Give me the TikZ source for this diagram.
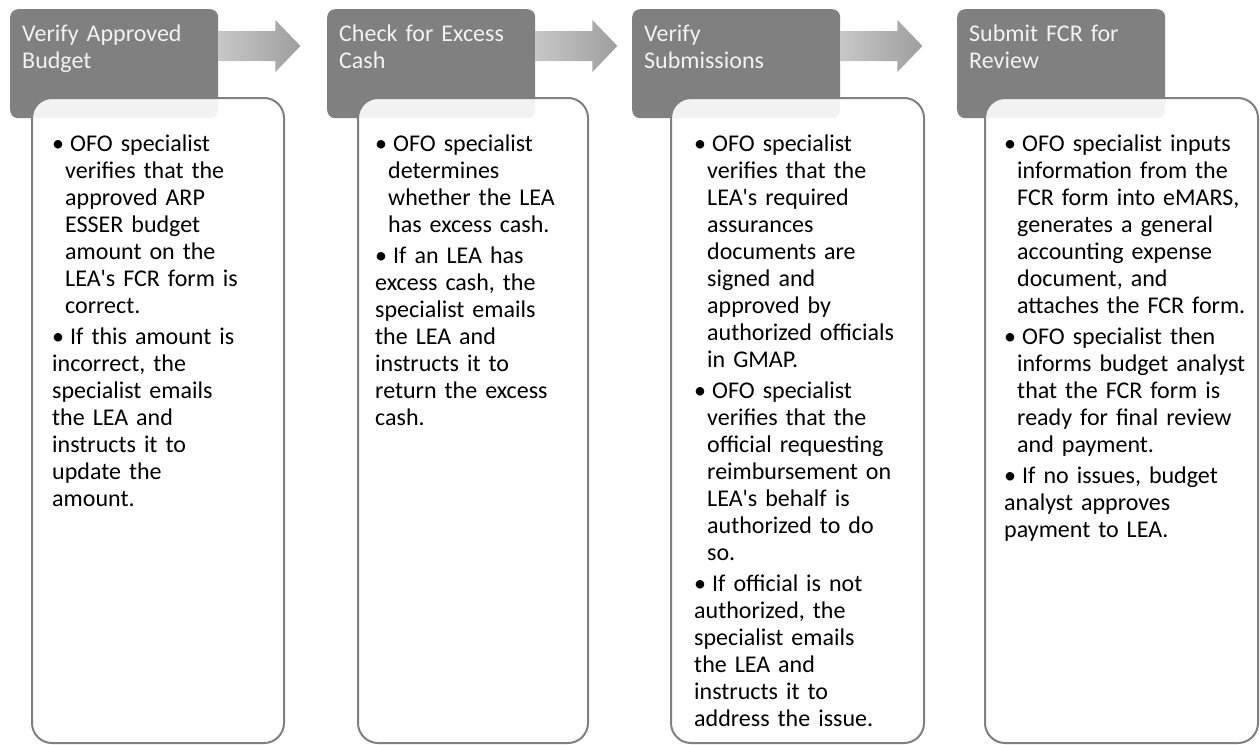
\documentclass[tikz,border=0pt]{standalone}
\usepackage{fontspec}
\setmainfont{Carlito}[Ligatures=TeXOff]
\usetikzlibrary{positioning,calc}
\tikzset{
	head/.style={rectangle, rounded corners=8pt, fill=black!50, minimum width=208pt, minimum height=109pt, anchor=north west, inner sep=0pt},
	headtext/.style={anchor=north west, inner sep=0pt, text width=190pt, text=white!95!black, font=\fontsize{24pt}{26.5pt}\selectfont},
	card/.style={rectangle, rounded corners=20pt, draw=black!50, line width=2pt, fill=white, fill opacity=0.9, anchor=north west, minimum height=645pt, inner sep=0pt},
	cardtext/.style={anchor=north west, inner sep=0pt, text width=265pt, font=\fontsize{24pt}{27pt}\selectfont\setlength{\parskip}{4pt}},
	flow/.style={left color=black!22, right color=black!38}
}
\newcommand{\bul}{\par\hangindent=13pt\hangafter=1\noindent\makebox[18pt][l]{\textbullet}}

\begin{document}
\begin{tikzpicture}[x=1pt, y=-1pt]
\useasboundingbox (0,0) rectangle (1260,744);
\node[head] (hd1) at (10,9) {};
\node[head] (hd2) at (327,9) {};
\node[head] (hd3) at (632,9) {};
\node[head] (hd4) at (957,9) {};
\node[headtext] (ttl1) at ($(hd1.north west)+(12,16)$) {Verify Approved\newline Budget};
\node[headtext] (ttl2) at ($(hd2.north west)+(12,16)$) {Check for Excess\newline Cash};
\node[headtext] (ttl3) at ($(hd3.north west)+(12,16)$) {Verify\newline Submissions};
\node[headtext] (ttl4) at ($(hd4.north west)+(12,16)$) {Submit FCR for\newline Review};

% block arrows between the steps
\foreach \a in {hd1,hd2,hd3}
	\shade[flow] ($(\a.north east)+(0,22)$) -- ($(\a.north east)+(57,22)$) -- ($(\a.north east)+(57,11)$)
		-- ($(\a.north east)+(82,37)$) -- ($(\a.north east)+(57,63)$) -- ($(\a.north east)+(57,52)$)
		-- ($(\a.north east)+(0,52)$) -- cycle;

\node[card, minimum width=252pt] (bx1) at (31,97) {};
\node[card, minimum width=230pt] (bx2) at (357,97) {};
\node[card, minimum width=253pt] (bx3) at (670,97) {};
\node[card, minimum width=273pt] (bx4) at (984,97) {};

\node[cardtext] (txt1) at ($(bx1.north west)+(21,23)$) {%
\bul OFO specialist\newline verifies that the\newline approved ARP\newline ESSER budget\newline amount on the\newline LEA's FCR form is\newline correct.
\bul If this amount is\newline incorrect, the\newline specialist emails\newline the LEA and\newline instructs it to\newline update the\newline amount.};
\node[cardtext] (txt2) at ($(bx2.north west)+(18,23)$) {%
\bul OFO specialist\newline determines\newline whether the LEA\newline has excess cash.
\bul If an LEA has\newline excess cash, the\newline specialist emails\newline the LEA and\newline instructs it to\newline return the excess\newline cash.};
\node[cardtext] (txt3) at ($(bx3.north west)+(24,23)$) {%
\bul OFO specialist\newline verifies that the\newline LEA's required\newline assurances\newline documents are\newline signed and\newline approved by\newline authorized officials\newline in GMAP.
\bul OFO specialist\newline verifies that the\newline official requesting\newline reimbursement on\newline LEA's behalf is\newline authorized to do\newline so.
\bul If official is not\newline authorized, the\newline specialist emails\newline the LEA and\newline instructs it to\newline address the issue.};
\node[cardtext] (txt4) at ($(bx4.north west)+(20,23)$) {%
\bul OFO specialist inputs\newline information from the\newline FCR form into eMARS,\newline generates a general\newline accounting expense\newline document, and\newline attaches the FCR form.
\bul OFO specialist then\newline informs budget analyst\newline that the FCR form is\newline ready for final review\newline and payment.
\bul If no issues, budget\newline analyst approves\newline payment to LEA.};
\end{tikzpicture}
\end{document}
